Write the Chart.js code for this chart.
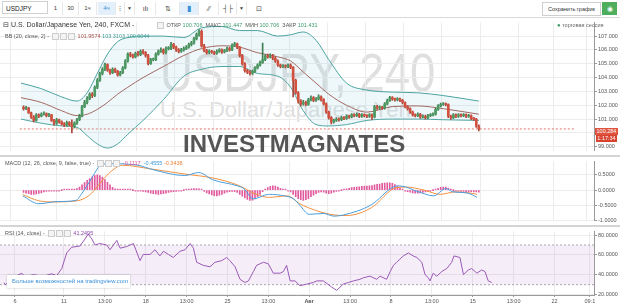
<!DOCTYPE html>
<html>
<head>
<meta charset="utf-8">
<script src="https://cdn.jsdelivr.net/npm/chart.js@4.4.1/dist/chart.umd.min.js"></script>
<style>
  body { margin: 0; width: 620px; height: 307px; overflow: hidden; background: #fff; position: relative;
         font-family: "Liberation Sans", Arial, sans-serif; }
  .abs { position: absolute; white-space: nowrap; }
  #tb { position: absolute; left: 0; top: 0; width: 620px; height: 17px; background: #fff; border-bottom: 1px solid #dadada; }
  .b { position: absolute; top: 2px; height: 13px; line-height: 13px; font-size: 6px; color: #444; text-align: center; border-right: 1px solid #e8e8e8; }
  .sep { position: absolute; left: 0; width: 620px; height: 2px; background: #d4d4d4; z-index: 4; }
  .lg { position: absolute; white-space: nowrap; font-size: 5.5px; color: #555; z-index: 5; }
  .box { display: inline-block; width: 5px; height: 5px; border: 1px solid #ccc; margin-right: 1px; vertical-align: middle; background: #f4f4f4; }
  canvas { display: block; }
</style>
</head>
<body>
<div id="tb">
  <div class="b" style="left:2px;width:46px;border:1px solid #d0d0d0;top:1px;text-align:left;padding-left:3px;box-sizing:border-box;font-size:6.5px;color:#222">USDJPY</div>
  <div class="b" style="left:49px;width:13px">1</div>
  <div class="b" style="left:63px;width:15px">30</div>
  <div class="b" style="left:79px;width:17px">1ч</div>
  <div class="b" style="left:98px;width:17px;background:#e3f0fb;color:#3a8fd9">4ч</div>
  <div class="b" style="left:116px;width:8px">⋮</div>
  <div class="b" style="left:125px;width:9px;font-size:5px">▼</div>
  <div class="b" style="left:136px;width:19px;font-size:7px">ılı</div>
  <div class="b" style="left:157px;width:22px;font-size:7px">⇅</div>
  <div class="b" style="left:180px;width:18px;background:#e3f0fb;color:#3a8fd9;font-size:8px">▮</div>
  <div class="b" style="left:200px;width:18px;font-size:7px">⁄⁄</div>
  <div class="b" style="left:220px;width:16px;font-size:7px">┤├</div>
  <div class="b" style="left:237px;width:9px;font-size:5px">▼</div>
  <div class="b" style="left:250px;width:18px;font-size:7px;border-right:none">⊡</div>
  <div class="b" style="left:542px;width:57px;border:1px solid #cfcfcf;top:2px;height:12px;line-height:12px;font-size:5.5px;color:#333">Сохранить график</div>
  <div class="b" style="left:602px;width:15px;background:#4fae5c;border:none;color:#fff;font-size:7px">◉</div>
</div>

<!-- watermark -->
<div class="abs" style="left:160px;top:46px;font-size:53px;line-height:1;color:#dfdfdf;transform:scaleX(0.86);transform-origin:left;z-index:0">USDJPY, 240</div>
<div class="abs" style="left:160px;top:99px;font-size:22px;line-height:1;color:#dfdfdf;z-index:0">U.S. Dollar/Japanese Yen</div>

<div class="abs" style="left:0;top:18px;z-index:1"><canvas id="cMain" width="620" height="137"></canvas></div>
<div class="sep" style="top:155px"></div>
<div class="abs" style="left:0;top:157px;z-index:1"><canvas id="cMacd" width="620" height="68"></canvas></div>
<div class="sep" style="top:225px"></div>
<div class="abs" style="left:0;top:227px;z-index:1"><canvas id="cRsi" width="620" height="80"></canvas></div>

<!-- legends -->
<div class="lg" style="left:3px;top:21px;font-size:7px;color:#333"><span style="font-size:7px">⊟</span> U.S. Dollar/Japanese Yen, 240, FXCM -</div>
<div class="lg" style="left:157px;top:22px"><span class="box"></span> ОТКР <span style="color:#3d9a6e">100.706</span>&nbsp; МАКС <span style="color:#3d9a6e">101.447</span>&nbsp; МИН <span style="color:#3d9a6e">100.706</span>&nbsp; ЗАКР <span style="color:#3d9a6e">101.431</span></div>
<div class="lg" style="left:5px;top:33px">BB (20, close, 2) - &nbsp;<span class="box"></span><span class="box"></span><span class="box"></span> <span style="color:#a0524a">101.9574</span> <span style="color:#3d9a99">103.3103</span> <span style="color:#3d9a99">100.6044</span></div>
<div class="lg" style="left:557px;top:22px;color:#666"><span style="color:#3d9a6e;font-size:6px">●</span> торговая сессия</div>

<div class="lg" style="left:5px;top:160px">MACD (12, 26, close, 9, false, true) - &nbsp;<span class="box"></span><span class="box"></span><span class="box"></span> <span style="color:#e0509a">-0.1117</span>&nbsp; <span style="color:#3a9ad9">-0.4555</span> <span style="color:#f0883a">-0.3438</span></div>
<div class="lg" style="left:5px;top:230px">RSI (14, close) - &nbsp;<span class="box"></span><span class="box"></span><span class="box"></span> <span style="color:#8e44ad">41.2495</span></div>

<div class="abs" style="left:595px;top:128px;width:23px;height:7px;line-height:7px;background:#e0533f;color:#fff;font-size:5.5px;text-align:center;z-index:5">100.284</div>
<div class="abs" style="left:596px;top:135px;width:21px;height:7px;line-height:7px;background:#d8432f;color:#fff;font-size:5.5px;text-align:center;z-index:5">1:17:34</div>

<div class="abs" style="left:183px;top:132px;font-size:24px;line-height:1;font-weight:bold;color:#555;z-index:6">INVESTMAGNATES</div>

<div class="abs" style="left:7px;top:275px;width:123px;height:13px;line-height:13px;background:#fff;box-shadow:0 0 2px rgba(0,0,0,0.25);font-size:6px;color:#3a8fd9;padding-left:5px;box-sizing:border-box;z-index:6">Больше возможностей на tradingview.com</div>

<script>
// 4h свечи USDJPY, индекс = номер свечи
const opens = [101.85, 101.75, 101.80, 101.45,
  101.15, 100.90, 101.30, 101.20, 101.35, 101.40,
  101.25, 101.30, 100.90, 100.70, 100.95, 100.80,
  100.65, 100.55, 100.75, 100.60, 100.45, 100.70,
  100.95, 101.20, 101.90, 102.20, 102.50, 102.80,
  102.70, 103.30, 103.80, 104.30, 104.60, 104.95,
  104.55, 104.35, 104.60, 104.45, 104.20, 104.35,
  104.70, 105.20, 105.70, 105.60, 105.50, 105.75,
  105.65, 105.90, 105.80, 105.60, 105.00, 105.30,
  105.30, 105.70, 105.90, 106.00, 105.80, 106.10,
  106.10, 106.40, 106.20, 106.00, 105.90, 106.00,
  106.10, 106.20, 106.40, 106.50, 106.80, 107.10,
  107.35, 106.30, 105.95, 105.80, 105.90, 105.85,
  105.75, 105.90, 106.00, 105.85, 105.95, 106.10,
  106.00, 106.35, 106.45, 106.20, 105.60, 105.00,
  104.50, 104.40, 104.30, 104.45, 104.70, 104.90,
  105.10, 105.30, 105.55, 105.50, 105.60, 105.40,
  105.20, 104.90, 104.80, 104.85, 104.80, 104.90,
  104.75, 103.80, 102.90, 102.30, 102.10, 102.20,
  102.05, 102.40, 102.55, 102.35, 102.45, 102.60,
  102.40, 102.10, 101.50, 101.10, 100.80, 100.90,
  101.00, 100.95, 101.10, 101.05, 101.20, 101.15,
  101.30, 101.25, 101.35, 101.20, 101.30, 101.25,
  101.20, 101.30, 101.15, 101.90, 101.80, 101.85,
  101.80, 102.10, 102.35, 102.55, 102.45, 102.40,
  102.45, 102.35, 102.20, 101.90, 101.75, 101.50,
  101.30, 101.25, 101.35, 101.15, 101.20, 101.10,
  101.25, 101.30, 101.35, 101.70, 101.95, 102.05,
  102.10, 102.05, 101.20, 101.10, 101.30, 101.20,
  101.30, 101.25, 101.30, 101.20, 101.25, 101.05,
  101.00, 100.50];
const closes = [101.75, 101.80, 101.45, 101.15,
  100.90, 101.30, 101.20, 101.35, 101.40, 101.25,
  101.30, 100.90, 100.70, 100.95, 100.80, 100.65,
  100.55, 100.75, 100.60, 100.45, 100.70, 100.95,
  101.20, 101.90, 102.20, 102.50, 102.80, 102.70,
  103.30, 103.80, 104.30, 104.60, 104.95, 104.55,
  104.35, 104.60, 104.45, 104.20, 104.35, 104.70,
  105.20, 105.70, 105.60, 105.50, 105.75, 105.65,
  105.90, 105.80, 105.60, 105.00, 105.30, 105.30,
  105.70, 105.90, 106.00, 105.80, 106.10, 106.10,
  106.40, 106.20, 106.00, 105.90, 106.00, 106.10,
  106.20, 106.40, 106.50, 106.80, 107.10, 107.35,
  106.30, 105.95, 105.80, 105.90, 105.85, 105.75,
  105.90, 106.00, 105.85, 105.95, 106.10, 106.00,
  106.35, 106.45, 106.20, 105.60, 105.00, 104.50,
  104.40, 104.30, 104.45, 104.70, 104.90, 105.10,
  105.30, 105.55, 105.50, 105.60, 105.40, 105.20,
  104.90, 104.80, 104.85, 104.80, 104.90, 104.75,
  103.80, 102.90, 102.30, 102.10, 102.20, 102.05,
  102.40, 102.55, 102.35, 102.45, 102.60, 102.40,
  102.10, 101.50, 101.10, 100.80, 100.90, 101.00,
  100.95, 101.10, 101.05, 101.20, 101.15, 101.30,
  101.25, 101.35, 101.20, 101.30, 101.25, 101.20,
  101.30, 101.15, 101.90, 101.80, 101.85, 101.80,
  102.10, 102.35, 102.55, 102.45, 102.40, 102.45,
  102.35, 102.20, 101.90, 101.75, 101.50, 101.30,
  101.25, 101.35, 101.15, 101.20, 101.10, 101.25,
  101.30, 101.35, 101.70, 101.95, 102.05, 102.10,
  102.05, 101.20, 101.10, 101.30, 101.20, 101.30,
  101.25, 101.30, 101.20, 101.25, 101.05, 101.00,
  100.50, 100.28];
const highs = [101.95, 101.92, 101.85, 101.50,
  101.25, 101.40, 101.38, 101.45, 101.52, 101.45,
  101.42, 101.35, 100.98, 101.05, 101.00, 100.88,
  100.75, 100.85, 100.82, 100.95, 100.80, 101.05,
  101.35, 102.00, 102.35, 102.62, 102.90, 102.92,
  103.40, 103.92, 104.40, 104.72, 105.05, 105.00,
  104.62, 104.70, 104.68, 104.52, 104.45, 104.80,
  105.30, 105.80, 105.82, 105.70, 105.85, 105.90,
  106.00, 106.02, 105.88, 105.68, 105.40, 105.42,
  105.80, 106.00, 106.15, 106.08, 106.22, 106.25,
  106.55, 106.48, 106.28, 106.10, 106.12, 106.22,
  106.32, 106.50, 106.62, 106.92, 107.22, 107.48,
  107.45, 106.40, 106.05, 106.00, 105.98, 105.92,
  106.00, 106.10, 106.08, 106.05, 106.20, 106.18,
  106.45, 106.55, 106.50, 106.25, 105.68, 105.08,
  104.60, 104.50, 104.55, 104.80, 105.00, 105.20,
  106.50, 105.65, 105.70, 105.72, 105.68, 105.48,
  105.28, 104.98, 104.95, 104.92, 105.00, 105.00,
  104.80, 103.90, 102.98, 102.40, 102.35, 102.30,
  102.50, 102.68, 102.62, 102.55, 102.75, 102.68,
  102.48, 102.18, 101.58, 101.18, 101.00, 101.10,
  101.08, 101.20, 101.18, 101.30, 101.28, 101.40,
  101.38, 101.45, 101.42, 101.40, 101.38, 101.32,
  101.40, 101.38, 102.00, 102.00, 101.95, 101.92,
  102.20, 102.45, 102.65, 102.62, 102.52, 102.55,
  102.52, 102.42, 102.25, 101.98, 101.82, 101.58,
  101.38, 101.45, 101.42, 101.30, 101.28, 101.35,
  101.40, 101.45, 101.80, 102.05, 102.15, 102.20,
  102.18, 102.10, 101.28, 101.40, 101.38, 101.40,
  101.38, 101.40, 101.38, 101.35, 101.30, 101.12,
  101.05, 100.58];
const lows = [101.65, 101.68, 101.40, 101.05,
  100.80, 100.85, 101.10, 101.15, 101.28, 101.15,
  101.18, 100.82, 100.55, 100.62, 100.70, 100.55,
  100.45, 100.48, 100.50, 100.00, 100.35, 100.62,
  100.88, 101.15, 101.82, 102.10, 102.40, 102.55,
  102.62, 103.20, 103.72, 104.20, 104.50, 104.45,
  104.22, 104.28, 104.35, 104.10, 104.12, 104.28,
  104.62, 105.12, 105.50, 105.40, 105.42, 105.55,
  105.58, 105.70, 105.48, 104.92, 104.95, 105.20,
  105.22, 105.62, 105.82, 105.70, 105.72, 106.00,
  106.02, 106.10, 105.90, 105.78, 105.82, 105.92,
  106.02, 106.12, 106.30, 106.42, 106.72, 107.00,
  106.20, 105.85, 105.70, 105.72, 105.75, 105.65,
  105.68, 105.82, 105.75, 105.78, 105.88, 105.92,
  105.95, 106.25, 106.10, 105.50, 104.90, 104.40,
  104.28, 104.20, 104.22, 104.38, 104.62, 104.82,
  105.02, 105.22, 105.40, 105.42, 105.30, 105.10,
  104.80, 104.70, 104.72, 104.70, 104.72, 104.65,
  102.60, 102.80, 102.15, 101.95, 102.00, 101.95,
  101.98, 102.32, 102.25, 102.28, 102.38, 102.30,
  102.00, 101.40, 101.00, 100.65, 100.70, 100.82,
  100.85, 100.88, 100.95, 100.98, 101.05, 101.08,
  101.15, 101.18, 101.10, 101.12, 101.15, 101.10,
  101.12, 100.95, 101.08, 101.70, 101.72, 101.70,
  101.72, 102.02, 102.28, 102.35, 102.30, 102.32,
  102.25, 102.10, 101.80, 101.65, 101.40, 101.20,
  101.15, 101.18, 101.05, 101.08, 101.00, 101.02,
  101.18, 101.22, 101.28, 101.62, 101.88, 101.98,
  101.95, 101.10, 100.98, 101.02, 101.10, 101.12,
  101.15, 101.18, 101.10, 101.12, 100.95, 100.90,
  100.40, 100.15];
const lastPrice = 100.284;

// Полосы Боллинджера
const bbX     = [-1, 7, 15, 21, 25, 29, 33, 37, 41, 47, 55, 63, 70, 78, 85, 92, 100, 105, 110, 115, 120, 127, 135, 145, 155, 165, 179];
const bbUpper = [103.6, 103.2, 102.6, 102.3, 102.9, 104.3, 105.7, 106.6, 106.9, 107.0, 107.0, 106.9, 107.6, 107.7, 107.4, 107.4, 107.0, 107.1, 107.3, 106.7, 105.3, 103.6, 103.1, 102.95, 102.9, 102.7, 102.3];
const bbMid   = [102.55, 102.2, 101.6, 101.25, 101.35, 101.7, 102.2, 102.8, 103.3, 104.0, 104.8, 105.6, 106.1, 106.3, 106.2, 105.8, 105.5, 105.2, 104.4, 103.6, 102.8, 102.0, 101.5, 101.9, 101.95, 101.75, 101.35];
const bbLower = [101.0, 100.7, 100.5, 100.4, 99.8, 99.2, 98.9, 99.2, 99.9, 100.9, 102.4, 104.1, 104.6, 104.8, 104.8, 104.3, 104.1, 103.3, 101.6, 100.6, 100.5, 100.6, 100.9, 101.0, 101.0, 100.95, 100.9];

// MACD
const macdHist = [-0.08, -0.10, -0.12, -0.14, -0.14, -0.13, -0.11, -0.09,
  -0.06, -0.04, -0.03, -0.02, -0.02, -0.01, -0.01, 0, 0.01, 0.01, 0.02, 0.02, 0.03, 0.05,
  0.10, 0.17, 0.25, 0.32, 0.38, 0.44, 0.48, 0.50, 0.48, 0.43, 0.35, 0.26, 0.17, 0.09,
  0.04, 0.02, 0.01, 0.02, 0.03, 0.02, 0.01, 0, -0.01, -0.02, -0.03, -0.04, -0.06,
  -0.08, -0.10, -0.12, -0.13, -0.14, -0.13, -0.12, -0.10, -0.08, -0.06, -0.05, -0.04,
  -0.03, -0.02, 0, 0.02, 0.03, 0.04, 0.05, 0.05, 0.04, 0.02,
  -0.04, -0.09, -0.13, -0.16, -0.18, -0.19, -0.17, -0.14, -0.10, -0.07, -0.05, -0.04, -0.05, -0.08,
  -0.14, -0.20, -0.26, -0.31, -0.34, -0.33, -0.29, -0.22, -0.14, -0.05, 0.03,
  0.08, 0.12, 0.14, 0.13, 0.10, 0.06, 0.03, 0.01, -0.02,
  -0.06, -0.14, -0.22, -0.28, -0.32, -0.34, -0.32, -0.28,
  -0.22, -0.17, -0.12, -0.08, -0.06, -0.07, -0.10, -0.12, -0.10, -0.07, -0.04, -0.02, 0, 0.02,
  0.04, 0.06, 0.08, 0.09, 0.10, 0.11, 0.12, 0.13, 0.13, 0.14, 0.15, 0.17, 0.19, 0.20, 0.22, 0.23, 0.24, 0.24, 0.22, 0.18, 0.13, 0.08, 0.03,
  -0.02, -0.05, -0.07, -0.09, -0.10, -0.10, -0.09, -0.08, -0.06, -0.04, -0.02, 0, 0.03, 0.06,
  0.09, 0.10, 0.10, 0.07, 0.03, 0, -0.02, -0.03, -0.04, -0.04, -0.05, -0.05, -0.05, -0.06, -0.06, -0.07];
const macdX = [-0.3, 5.9, 13.2, 20.6, 23.0, 26.7, 29.0, 30.3, 34.0, 45.0, 51.1, 63.4, 68.9, 74.4, 84.1, 86.6, 90.3, 96.4, 102.5, 106.2, 108.6, 112.3, 117.8, 122.1, 125.8, 136.8, 145.3, 147.8, 155.1, 161.2, 166.1, 168.6, 174.7, 178.3];
const macdY = [-0.19, -0.45, -0.38, -0.34, -0.1, 0.38, 0.7, 0.84, 0.87, 0.82, 0.67, 0.48, 0.58, 0.34, 0.14, 0.05, -0.29, -0.14, -0.19, -0.29, -0.5, -0.8, -0.77, -0.86, -0.82, -0.48, 0.1, 0.14, -0.05, -0.19, 0.05, -0.05, -0.1, -0.24];
const signalX = [-0.3, 5.9, 10.8, 20.6, 25.4, 27.9, 31.6, 35.2, 38.9, 49.9, 63.4, 74.4, 84.1, 91.5, 96.4, 103.7, 108.6, 114.8, 122.1, 127.0, 136.8, 146.5, 150.2, 157.5, 163.7, 169.8, 175.9, 178.3];
const signalY = [-0.15, -0.35, -0.39, -0.36, -0.2, 0.0, 0.38, 0.67, 0.82, 0.7, 0.53, 0.4, 0.17, -0.14, -0.24, -0.19, -0.45, -0.67, -0.82, -0.84, -0.58, 0.08, 0.1, 0.0, -0.14, -0.06, -0.1, -0.14];

// RSI (14)
const rsiX = [0, 0.4, 2.2, 4.0, 6.5, 7.7, 10.8, 14.4, 17.5, 19.3,
  21.2, 23.0, 24.8, 27.9, 29.7, 30.9, 32.2, 33.4, 35.2, 37.7,
  38.9, 41.4, 42.6, 45.0, 47.5, 49.9, 51.1, 53.6, 55.4, 57.2,
  58.5, 60.3, 62.1, 64.6, 66.4, 68.3, 69.5, 70.7, 73.1, 75.6,
  77.4, 79.9, 81.7, 82.9, 84.8, 86.6, 88.4, 89.7, 91.5, 92.7,
  95.2, 97.0, 98.8, 101.3, 102.5, 103.7, 105.0, 106.8, 108.6, 111.1,
  113.5, 114.8, 117.2, 120.3, 122.1, 124.5, 126.4, 128.2, 130.6, 131.9,
  134.3, 136.8, 138.0, 140.4, 141.7, 142.9, 144.1, 145.3, 146.5, 148.4,
  150.2, 151.5, 153.3, 154.5, 155.7, 156.3, 157.5, 158.8, 160.6, 162.5,
  164.3, 165.1, 167.3, 168.6, 170.4, 171.6, 173.5, 175.3, 176.5, 177.7, 179.0];
const rsiY = [32, 30, 33, 38, 41.6, 38, 40.1, 38.4, 41, 39,
  46.3, 62, 67.7, 69, 76, 81, 76.2, 70, 71.5, 70,
  65.2, 74.6, 66.8, 68.4, 71.5, 54.2, 60.5, 60.5, 65.2, 59,
  63.7, 60.5, 57.4, 63.7, 65.2, 71.5, 66.8, 52.6, 49.5, 48,
  52.6, 54.2, 57.4, 54.2, 48, 35.4, 32.2, 33.8, 43.2, 49.5,
  52.6, 51, 41.6, 41.6, 43.2, 49.5, 33.8, 33.8, 29, 30.6,
  32.2, 33.8, 33.8, 27.5, 24.3, 30.6, 32.2, 33.8, 35.4, 37,
  38.6, 35.4, 38.6, 35.4, 43.2, 49.5, 52.6, 55.8, 58.9, 62,
  58.9, 57.4, 52.6, 40.1, 37, 33.8, 41.6, 38.5, 43.2, 46.3,
  52.6, 59, 57.4, 40.1, 44.8, 46.3, 41.6, 44.8, 43.2, 33.8, 32.2];
const rsiTop = 70, rsiBottom = 30;

// подписи оси времени
const tickIdx = [4, 22, 37, 52, 67, 82, 97, 112, 127, 142, 157, 172, 187, 202, 215];
const tickLabels = ['6', '11', '13:00', '18', '13:00', '25', '13:00', 'Авг', '13:00', '8', '13:00', '15', '13:00', '22', '09:1'];
const priceTicks = [99, 100, 101, 102, 103, 104, 105, 106, 107];
const macdTicks = [-1, -0.5, 0, 0.5];
const rsiTicks = [20, 40, 60, 80];

const FONT = '"Liberation Sans", Arial, sans-serif';
const xMin = -1.47, xMax = 216.5;
const gridColor = '#ececec';
const upColor = '#4e9a64', downColor = '#d2513f';

function xScale(labels) {
  return {
    type: 'linear', min: xMin, max: xMax,
    afterBuildTicks: s => { s.ticks = tickIdx.map(v => ({ value: v })); },
    grid: { color: gridColor, drawTicks: labels, tickLength: 2, tickColor: '#999' },
    border: { display: labels, color: '#999' },
    ticks: {
      display: labels, autoSkip: false, maxRotation: 0, padding: 1, color: '#555',
      font: ctx => ({ family: FONT, size: 5.5, weight: tickLabels[ctx.index] === 'Авг' ? 'bold' : 'normal' }),
      callback: (v, i) => tickLabels[i]
    },
    afterFit: s => { s.height = labels ? 12 : 0; }
  };
}

function yScale(min, max, vals, dec) {
  return {
    position: 'right', min: min, max: max,
    afterBuildTicks: s => { s.ticks = vals.map(v => ({ value: v })); },
    grid: { color: gridColor, tickLength: 3, tickColor: '#999' },
    border: { color: '#999' },
    ticks: { padding: 1, color: '#555', font: { family: FONT, size: 5.5 }, callback: v => v.toFixed(dec) },
    afterFit: s => { s.width = 26; }
  };
}

const baseOpts = {
  responsive: false, animation: false,
  layout: { padding: 0 },
  plugins: { legend: { display: false }, tooltip: { enabled: false } }
};

const idx = closes.map((c, i) => i);
const pts = (xs, ys) => xs.map((x, i) => ({ x: x, y: ys[i] }));

// основной график
new Chart(document.getElementById('cMain'), {
  type: 'bar',
  data: {
    datasets: [
      {
        type: 'bar', grouped: false, barThickness: 2, minBarLength: 1,
        data: idx.map(i => ({ x: i, y: [opens[i], closes[i]] })),
        backgroundColor: idx.map(i => closes[i] >= opens[i] ? upColor : downColor)
      },
      {
        type: 'bar', grouped: false, barThickness: 1,
        data: idx.map(i => ({ x: i, y: [lows[i], highs[i]] })),
        backgroundColor: idx.map(i => closes[i] >= opens[i] ? '#3f7d52' : '#a8463a')
      },
      { type: 'line', data: pts(bbX, bbUpper), borderColor: '#4aa3a0', borderWidth: 1, pointRadius: 0,
        cubicInterpolationMode: 'monotone', fill: '+2', backgroundColor: 'rgba(150, 205, 220, 0.16)' },
      { type: 'line', data: pts(bbX, bbMid), borderColor: '#a5554c', borderWidth: 1, pointRadius: 0,
        cubicInterpolationMode: 'monotone' },
      { type: 'line', data: pts(bbX, bbLower), borderColor: '#4aa3a0', borderWidth: 1, pointRadius: 0,
        cubicInterpolationMode: 'monotone' },
      { type: 'line', data: [{ x: xMin, y: lastPrice }, { x: xMax, y: lastPrice }], borderColor: '#e0735f',
        borderWidth: 1, borderDash: [2, 2], pointRadius: 0 }
    ]
  },
  options: Object.assign({}, baseOpts, {
    scales: { x: xScale(false), y: yScale(98.71, 108.0, priceTicks, 3) }
  })
});

// MACD
new Chart(document.getElementById('cMacd'), {
  type: 'bar',
  data: {
    datasets: [
      { type: 'line', data: pts(macdX, macdY), borderColor: '#4a9ede', borderWidth: 1, pointRadius: 0,
        cubicInterpolationMode: 'monotone' },
      { type: 'line', data: pts(signalX, signalY), borderColor: '#f3903f', borderWidth: 1, pointRadius: 0,
        cubicInterpolationMode: 'monotone' },
      { type: 'bar', barThickness: 1, minBarLength: 1, data: idx.map(i => ({ x: i, y: macdHist[i] })),
        backgroundColor: '#e25a9e' }
    ]
  },
  options: Object.assign({}, baseOpts, {
    scales: { x: xScale(false), y: yScale(-1.01, 0.95, macdTicks, 4) }
  })
});

// RSI
new Chart(document.getElementById('cRsi'), {
  type: 'line',
  data: {
    datasets: [
      { data: pts(rsiX, rsiY), borderColor: '#9b59b6', borderWidth: 1, pointRadius: 0 },
      { data: [{ x: xMin, y: rsiTop }, { x: xMax, y: rsiTop }], borderColor: '#aaa', borderWidth: 1,
        borderDash: [2, 2], pointRadius: 0, fill: '+1', backgroundColor: 'rgba(155, 89, 182, 0.1)' },
      { data: [{ x: xMin, y: rsiBottom }, { x: xMax, y: rsiBottom }], borderColor: '#aaa', borderWidth: 1,
        borderDash: [2, 2], pointRadius: 0 }
    ]
  },
  options: Object.assign({}, baseOpts, {
    scales: { x: xScale(true), y: yScale(19.6, 83.8, rsiTicks, 4) }
  })
});
</script>
</body>
</html>
